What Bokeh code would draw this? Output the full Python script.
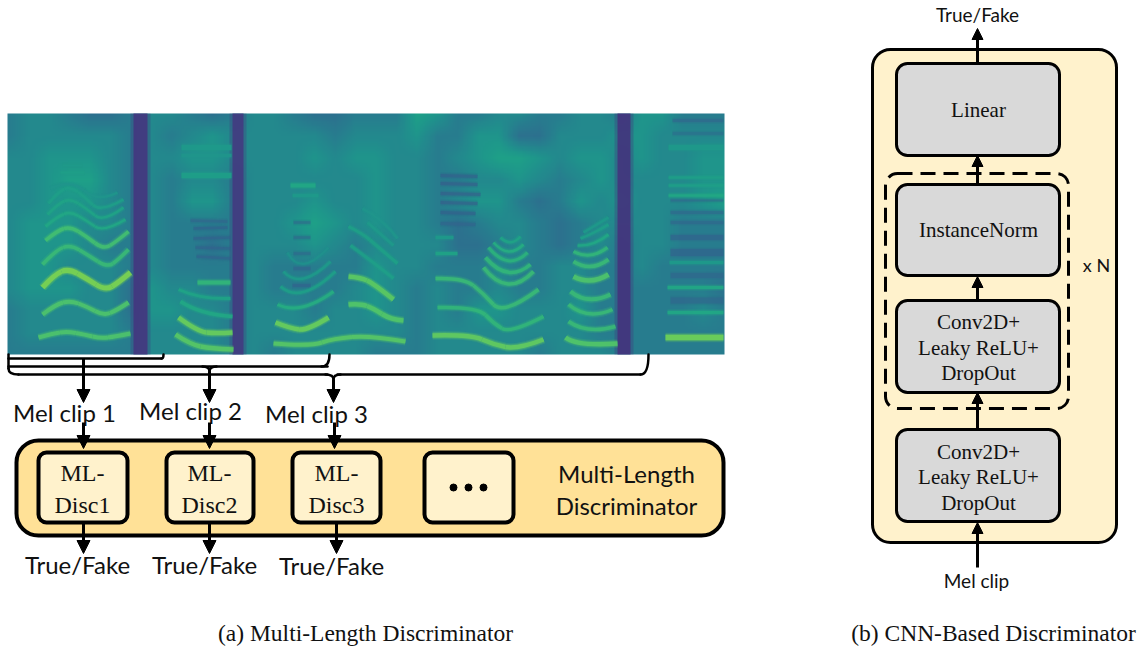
from bokeh.plotting import figure
from bokeh.embed import file_html
from bokeh.resources import INLINE
from bokeh.models import Range1d, ColumnDataSource, Arrow, NormalHead, LinearColorMapper
from bokeh.palettes import Viridis256
from bokeh.core.properties import value
import numpy as np

# ---- spectrogram background, read by eye: one digit per cell (0 dark .. 9 bright)
mel_rows = [
    "344322344323443223336533443344355333",
    "344444343454444434445335522444554444",
    "445554344554444545544345665455454455",
    "445664343443444444544334454345444455",
    "445554343553444544544345532354544456",
    "455544343333445654544323443234444333",
    "455543343323444543444422343234344333",
    "455444343333433333544333433443343333",
    "455544254433433334543433433443333332",
    "344444255443444344543435544453333343",
    "344444344443444444443444444443333333",
    "333333344443434444333444443444333333",
]
# dark silent columns (left, right, level)
dark_left = [133, 232, 617]
dark_right = [147, 243, 630]
dark_level = [0.14, 0.15, 0.13]

# harmonic tracks: anchor points (x, y), with level and thickness
tracks = [
    ([38, 52, 67, 84, 100, 115, 130], [337, 333, 331, 334, 338, 336, 333], 0.72, 4),
    ([42, 55, 70, 86, 103, 116, 128], [314, 304, 300, 306, 315, 310, 302], 0.72, 4),
    ([42, 54, 68, 86, 105, 118, 130], [287, 274, 268, 278, 290, 282, 272], 0.80, 5),
    ([42, 55, 70, 88, 107, 118, 128], [264, 250, 244, 255, 267, 259, 249], 0.68, 3.5),
    ([45, 57, 70, 86, 103, 116, 128], [240, 230, 226, 236, 249, 241, 231], 0.70, 3.5),
    ([45, 57, 70, 86, 103, 125], [226, 216, 211, 220, 232, 219], 0.60, 2.5),
    ([47, 58, 70, 86, 103, 123], [214, 203, 198, 208, 222, 207], 0.58, 2.5),
    ([48, 58, 70, 85, 100, 123], [203, 191, 186, 197, 212, 199], 0.56, 2.5),
    ([50, 70, 97, 117], [188, 178, 202, 192], 0.52, 2),
    ([62, 82], [165, 165], 0.54, 2),
    ([60, 84], [172, 172], 0.56, 2),
    ([175, 190, 210, 233], [334, 344, 348, 349], 0.74, 4.5),
    ([178, 197, 215, 232], [317, 331, 333, 332], 0.77, 4.5),
    ([180, 200, 232], [301, 314, 316], 0.60, 3.5),
    ([178, 200, 230], [289, 299, 298], 0.58, 3),
    ([197, 230], [282, 282], 0.66, 4),
    ([181, 231], [147, 147], 0.54, 5),
    ([181, 231], [155, 155], 0.52, 3),
    ([181, 231], [175, 175], 0.56, 5),
    ([196, 230], [256, 258], 0.30, 2.5),
    ([195, 230], [247, 248], 0.30, 2.5),
    ([193, 230], [238, 237], 0.30, 2.5),
    ([193, 227], [228, 227], 0.30, 2.5),
    ([190, 227], [220, 221], 0.31, 2.5),
    ([273, 310, 333, 370, 405], [343, 346, 338, 335, 341], 0.74, 4),
    ([275, 290, 307, 328], [322, 328, 330, 317], 0.77, 4.5),
    ([277, 300, 333], [304, 315, 291], 0.62, 3),
    ([280, 300, 335], [286, 304, 271], 0.56, 2.5),
    ([283, 300, 330], [271, 290, 261], 0.54, 2.5),
    ([287, 300, 328], [252, 277, 247], 0.50, 2),
    ([290, 315], [185, 185], 0.60, 4),
    ([292, 318], [195, 195], 0.54, 3),
    ([292, 310], [285, 285], 0.30, 3),
    ([293, 310], [268, 268], 0.31, 3),
    ([293, 310], [253, 253], 0.32, 2.5),
    ([293, 310], [222, 222], 0.32, 2.5),
    ([293, 310], [237, 237], 0.32, 2.5),
    ([348, 360, 373, 390, 403], [304, 303, 308, 319, 320], 0.73, 4.5),
    ([348, 360, 373, 393], [276, 277, 283, 299], 0.75, 4.5),
    ([350, 377, 393], [245, 265, 278], 0.56, 3),
    ([348, 362, 377, 397], [226, 233, 246, 263], 0.57, 3),
    ([367, 393], [222, 245], 0.54, 2.5),
    ([362, 383, 397], [208, 219, 238], 0.52, 2.5),
    ([432, 470, 493, 517, 543], [335, 334, 344, 349, 339], 0.76, 4.5),
    ([437, 477, 493, 510, 543], [307, 306, 323, 333, 316], 0.66, 3.5),
    ([435, 463, 483, 503, 538], [278, 277, 293, 315, 289], 0.68, 3.5),
    ([483, 507, 533], [267, 298, 271], 0.68, 3.5),
    ([485, 507, 530], [257, 283, 264], 0.66, 3.5),
    ([488, 508, 527], [247, 271, 252], 0.64, 3),
    ([493, 508, 523], [242, 259, 244], 0.62, 2.5),
    ([500, 510, 520], [237, 247, 236], 0.58, 2.5),
    ([435, 457], [253, 253], 0.58, 3),
    ([435, 453], [237, 237], 0.54, 3),
    ([440, 477], [175, 176], 0.29, 3),
    ([440, 477], [183, 184], 0.28, 3),
    ([440, 480], [193, 194], 0.28, 3),
    ([440, 477], [202, 203], 0.28, 3),
    ([440, 475], [212, 213], 0.29, 3),
    ([440, 475], [223, 224], 0.31, 3),
    ([565, 577, 617], [337, 346, 343], 0.73, 4.5),
    ([568, 587, 615], [321, 334, 326], 0.68, 3.5),
    ([568, 587, 612], [304, 320, 309], 0.68, 3.5),
    ([570, 587, 610], [291, 305, 294], 0.68, 4),
    ([573, 590, 608], [276, 285, 274], 0.72, 4.5),
    ([573, 590, 608], [261, 272, 259], 0.68, 3.5),
    ([573, 590, 607], [251, 260, 247], 0.66, 3),
    ([577, 593, 608], [245, 246, 234], 0.60, 2.5),
    ([580, 593, 608], [238, 233, 224], 0.56, 2.5),
    ([583, 608], [232, 217], 0.54, 2.5),
    ([665, 723], [337, 337], 0.78, 5.5),
    ([667, 723], [312, 312], 0.60, 3),
    ([667, 723], [287, 287], 0.60, 3),
    ([669, 723], [262, 262], 0.54, 3),
    ([670, 723], [300, 300], 0.32, 6),
    ([670, 723], [275, 275], 0.32, 5),
    ([670, 723], [252, 252], 0.30, 7),
    ([670, 723], [237, 237], 0.30, 5),
    ([670, 723], [222, 222], 0.32, 3),
    ([670, 723], [212, 212], 0.32, 3),
    ([670, 723], [200, 200], 0.32, 2),
    ([668, 723], [195, 195], 0.60, 2.5),
    ([668, 723], [185, 185], 0.56, 2.5),
    ([668, 723], [177, 177], 0.56, 2.5),
    ([668, 723], [147, 147], 0.54, 5),
    ([672, 723], [120, 120], 0.32, 3),
    ([672, 723], [133, 133], 0.35, 3),
]

# ---- labels
serif_labels = ["ML-", "Disc1", "ML-", "Disc2", "ML-", "Disc3", "Linear", "InstanceNorm",
                "Conv2D+", "Leaky ReLU+", "DropOut", "Conv2D+", "Leaky ReLU+", "DropOut"]
clip_labels = ["Mel clip 1", "Mel clip 2", "Mel clip 3", "True/Fake", "True/Fake", "True/Fake",
               "Multi-Length", "Discriminator"]
small_labels = ["True/Fake", "Mel clip", "x N"]
captions = ["(a) Multi-Length Discriminator", "(b) CNN-Based Discriminator"]

W, H = 1141, 646
p = figure(width=W, height=H, x_range=Range1d(0, W), y_range=Range1d(H, 0),
           output_backend="svg", toolbar_location=None, min_border=0)
p.axis.visible = False
p.grid.visible = False
p.outline_line_color = None
p.background_fill_color = "white"
p.border_fill_color = "white"

# spectrogram: the read cells are resampled for display only, as an image viewer would do
mapper = LinearColorMapper(palette=Viridis256, low=0, high=1)
cells = np.array([[0.27 + 0.05 * int(c) for c in row] for row in mel_rows])
SC = 12
r_new = np.linspace(0, cells.shape[0] - 1, cells.shape[0] * SC)
c_new = np.linspace(0, cells.shape[1] - 1, cells.shape[1] * SC)
by_col = np.array([np.interp(r_new, np.arange(cells.shape[0]), cells[:, j]) for j in range(cells.shape[1])]).T
grid = np.array([np.interp(c_new, np.arange(cells.shape[1]), row) for row in by_col])
p.image(image=[grid], x=7, y=113, dw=717, dh=241, color_mapper=mapper)

def level_colour(v):
    return Viridis256[int(round(v * 255))]

dark_cols = [level_colour(v) for v in dark_level]
p.quad(left=[v - 3 for v in dark_left], right=[v + 3 for v in dark_right], top=[113] * 3, bottom=[354] * 3,
       fill_color=dark_cols, fill_alpha=0.3, line_color=None)
p.quad(left=dark_left, right=dark_right, top=[113] * 3, bottom=[354] * 3,
       fill_color=dark_cols, fill_alpha=0.8, line_color=None)

seg = {k: [] for k in ["x0", "y0", "x1", "y1", "cx", "cy", "c", "w", "a"]}
def add_segment(sx, sy, cx, cy, ex, ey, lv, wd):
    seg["x0"].append(sx); seg["y0"].append(sy); seg["x1"].append(ex); seg["y1"].append(ey)
    seg["cx"].append(cx); seg["cy"].append(cy)
    seg["c"].append(level_colour(lv)); seg["w"].append(wd)
    seg["a"].append(0.92 if lv >= 0.45 else 0.5)

for xs, ys, lv, wd in tracks:
    n = len(xs)
    if n == 2:
        add_segment(xs[0], ys[0], (xs[0] + xs[1]) / 2, (ys[0] + ys[1]) / 2, xs[1], ys[1], lv, wd)
    else:
        for i in range(1, n - 1):
            sx = xs[0] if i == 1 else (xs[i - 1] + xs[i]) / 2
            sy = ys[0] if i == 1 else (ys[i - 1] + ys[i]) / 2
            ex = xs[-1] if i == n - 2 else (xs[i] + xs[i + 1]) / 2
            ey = ys[-1] if i == n - 2 else (ys[i] + ys[i + 1]) / 2
            add_segment(sx, sy, xs[i], ys[i], ex, ey, lv, wd)
seg_src = ColumnDataSource(seg)
seg_src.data["halo"] = [w + 4 for w in seg["w"]]
seg_src.data["mid"] = [w + 2 for w in seg["w"]]
seg_src.data["a_h"] = [a * 0.2 for a in seg["a"]]
seg_src.data["a_m"] = [a * 0.35 for a in seg["a"]]
for width_col, alpha_col in (("halo", "a_h"), ("mid", "a_m"), ("w", "a")):
    p.quadratic(x0="x0", y0="y0", x1="x1", y1="y1", cx="cx", cy="cy", source=seg_src,
                line_color="c", line_width=width_col, line_alpha=alpha_col, line_cap="butt")

# left panel boxes
p.quad(left=[16], right=[723], top=[440], bottom=[535], fill_color="#ffe197",
       line_color="black", line_width=4, border_radius=22)
p.quad(left=[38, 166, 292, 424], right=[127, 253, 380, 513], top=[452] * 4, bottom=[522] * 4,
       fill_color="#fff2cc", line_color="black", line_width=4, border_radius=8)
p.scatter(x=[453, 468, 483], y=[487, 487, 487], size=7, marker="circle", color="black")

# right panel boxes
p.quad(left=[872], right=[1116], top=[49], bottom=[542], fill_color="#fff2cc",
       line_color="black", line_width=3, border_radius=18)
p.quad(left=[896] * 4, right=[1059] * 4, top=[63, 184, 300, 429], bottom=[155, 275, 392, 521],
       fill_color="#d9d9d9", line_color="black", line_width=3, border_radius=11)
p.quad(left=[885], right=[1068], top=[173], bottom=[408], fill_color=None,
       line_color="black", line_width=3, line_dash="15 8", border_radius=12)

# brackets
br = dict(line_color="black", line_width=2.5, line_cap="round")
p.line([8, 8], [354, 368], **br)
p.line([8, 161], [358, 358], **br)
p.line([8, 327], [366, 366], **br)
p.line([18, 327], [374, 374], **br)
p.line([337, 640], [374, 374], **br)
p.quadratic(x0=[8], y0=[368], x1=[18], y1=[374], cx=[8], cy=[374], **br)
p.quadratic(x0=[161], y0=[358], x1=[163], y1=[354], cx=[163], cy=[358], **br)
p.quadratic(x0=[321], y0=[366], x1=[329], y1=[354], cx=[329], cy=[366], **br)
p.quadratic(x0=[640], y0=[374], x1=[648], y1=[354], cx=[648], cy=[374], **br)
p.quadratic(x0=[202, 216], y0=[366, 366], x1=[209, 209], y1=[371, 371], cx=[209, 209], cy=[366, 366], **br)
p.quadratic(x0=[325, 340], y0=[374, 374], x1=[333, 333], y1=[379, 379], cx=[333, 333], cy=[374, 374], **br)

# arrows
def arrows(xs, ys, xe, ye, size):
    src = ColumnDataSource(dict(xs=xs, ys=ys, xe=xe, ye=ye))
    p.add_layout(Arrow(end=NormalHead(size=size, fill_color="black", line_color="black", line_width=1),
                       x_start="xs", y_start="ys", x_end="xe", y_end="ye", source=src,
                       line_color="black", line_width=3))

arrows([83, 209, 333, 83, 209, 334, 83, 209, 336],
       [358, 371, 379, 422, 422, 422, 522, 522, 522],
       [83, 209, 333, 83, 209, 334, 83, 209, 336],
       [402, 402, 402, 448, 448, 448, 553, 553, 553], 13)
arrows([977] * 5, [63, 184, 300, 429, 567], [977] * 5, [28, 155, 276, 392, 522], 11)

# text
def label(xs, ys, texts, font, size):
    p.text(x=xs, y=ys, text=texts, text_font=value(font), text_font_size=size,
           text_align="center", text_baseline="middle", text_color="#111111")

label([82, 82, 209, 209, 336, 336], [472, 504, 472, 504, 472, 504], serif_labels[:6],
      "Liberation Serif", "24px")
label([978, 978, 978, 978, 978, 978, 978, 978],
      [109, 229, 321, 347, 372, 451, 476, 502], serif_labels[6:], "Liberation Serif", "21px")
label([64, 190, 316, 77, 204, 331, 626, 626], [412, 410, 413, 564, 564, 565, 473, 505],
      clip_labels, "Lato", "24px")
label([977], [14], small_labels[:1], "Lato", "19px")
label([976], [580], small_labels[1:2], "Lato", "19px")
label([1096], [264], small_labels[2:], "Lato", "18px")
label([365, 993], [632.5, 632.5], captions, "Liberation Serif", "23.5px")

open("out.html", "w").write(file_html(p, INLINE))
